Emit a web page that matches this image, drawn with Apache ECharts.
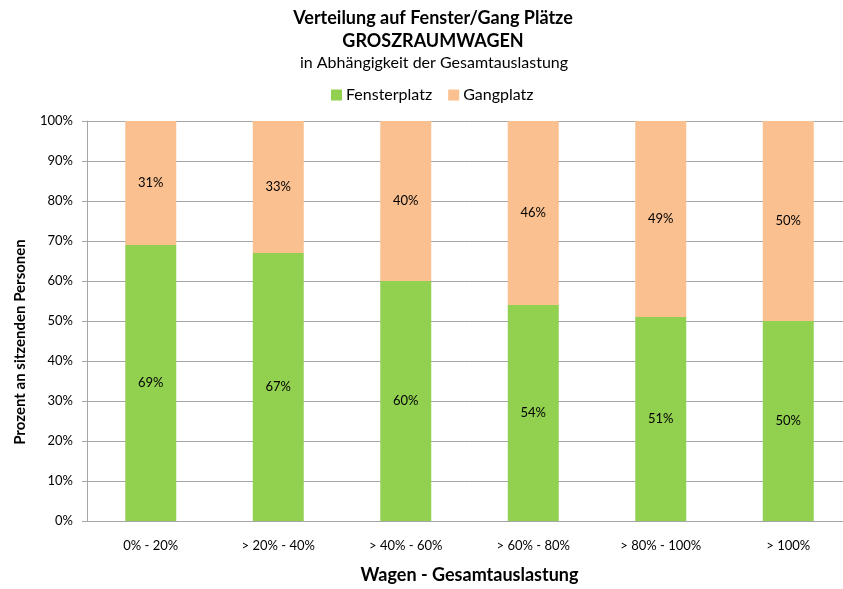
<!DOCTYPE html>
<html>
<head>
<meta charset="utf-8">
<script src="https://cdn.jsdelivr.net/npm/echarts@6/dist/echarts.min.js"></script>
<style>html,body{margin:0;padding:0;background:#fff;overflow:hidden}#c{width:852px;height:589px}</style>
</head>
<body>
<div id="c"></div>
<script>
var categories = ['0% - 20%', '> 20% - 40%', '> 40% - 60%', '> 60% - 80%', '> 80% - 100%', '> 100%'];
var fensterplatz = [69, 67, 60, 54, 51, 50];
var gangplatz = [31, 33, 40, 46, 49, 50];
var yTicks = [0, 10, 20, 30, 40, 50, 60, 70, 80, 90, 100];

var FONT = 'Lato, "Open Sans", sans-serif';
var chart = echarts.init(document.getElementById('c'), null, {renderer: 'canvas'});
chart.setOption({
  backgroundColor: '#fff',
  animation: false,
  textStyle: {fontFamily: FONT},
  title: [
    {text: 'Verteilung auf Fenster/Gang Plätze', left: 428, textAlign: 'center', top: 4,
     textStyle: {fontFamily: FONT, fontSize: 18, fontWeight: 'bold', color: '#000'}},
    {text: 'GROSZRAUMWAGEN', left: 428, textAlign: 'center', top: 27,
     textStyle: {fontFamily: FONT, fontSize: 18, fontWeight: 'bold', color: '#000'}},
    {text: 'in Abhängigkeit der Gesamtauslastung', left: 429, textAlign: 'center', top: 50,
     textStyle: {fontFamily: FONT, fontSize: 16, fontWeight: 'normal', color: '#000'}}
  ],
  legend: {
    left: 331, top: 87, padding: 0,
    itemWidth: 11, itemHeight: 11, itemGap: 16,
    icon: 'rect',
    textStyle: {fontFamily: FONT, fontSize: 16, color: '#000', padding: [0, 0, 0, -1]},
    data: ['Fensterplatz', 'Gangplatz']
  },
  grid: {left: 87, top: 121, right: 0, height: 400, containLabel: false},
  xAxis: {
    type: 'category',
    data: categories,
    name: 'Wagen - Gesamtauslastung',
    nameLocation: 'middle',
    nameGap: 45,
    nameTextStyle: {fontFamily: FONT, fontSize: 18, fontWeight: 'bold', color: '#000'},
    axisLine: {lineStyle: {color: '#a6a6a6', width: 1}},
    axisTick: {show: false},
    axisLabel: {fontFamily: FONT, fontSize: 13, color: '#000', margin: 18}
  },
  yAxis: {
    type: 'value',
    min: 0, max: 100, interval: 10,
    name: 'Prozent an sitzenden Personen',
    nameLocation: 'middle',
    nameGap: 59,
    nameRotate: 90,
    nameTextStyle: {fontFamily: FONT, fontSize: 15, fontWeight: 'bold', color: '#000', padding: [0, 42, 0, 0]},
    axisLine: {show: true, lineStyle: {color: '#a6a6a6', width: 1}},
    axisTick: {show: true, length: 5, lineStyle: {color: '#a6a6a6'}},
    splitLine: {show: true, lineStyle: {color: '#a6a6a6', width: 1}},
    axisLabel: {
      fontFamily: FONT, fontSize: 13, color: '#000', margin: 14,
      formatter: function (v) { return yTicks.indexOf(v) >= 0 ? v + '%' : ''; }
    }
  },
  series: [
    {
      name: 'Fensterplatz', type: 'bar', stack: 'total', data: fensterplatz,
      barWidth: '40%',
      itemStyle: {color: '#92D050'},
      label: {show: true, position: 'inside', formatter: '{c}%', fontFamily: FONT, fontSize: 13, color: '#000'}
    },
    {
      name: 'Gangplatz', type: 'bar', stack: 'total', data: gangplatz,
      barWidth: '40%',
      itemStyle: {color: '#FAC090'},
      label: {show: true, position: 'inside', formatter: '{c}%', fontFamily: FONT, fontSize: 13, color: '#000'}
    }
  ]
});
</script>
</body>
</html>
